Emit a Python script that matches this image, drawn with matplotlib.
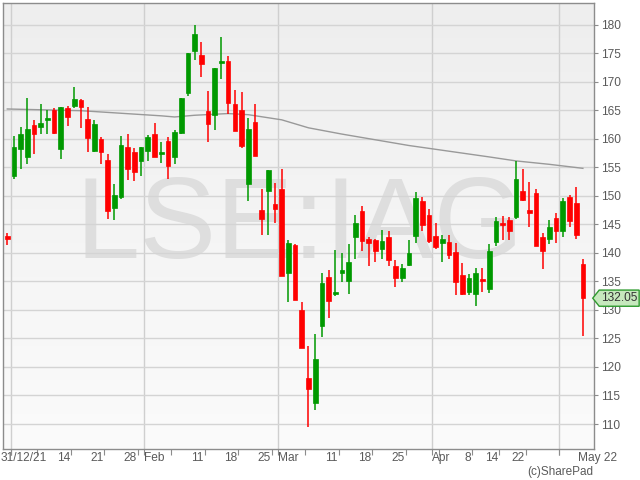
import matplotlib
matplotlib.use('Agg')
import matplotlib.pyplot as plt
import numpy as np
import pandas as pd
from matplotlib.path import Path
from matplotlib.transforms import blended_transform_factory

plt.rcParams['font.family'] = ['Liberation Sans', 'DejaVu Sans']

# trading days shown (UK holidays removed)
holidays = ['2022-01-03', '2022-04-15', '2022-04-18', '2022-05-02']
dates = pd.bdate_range('2021-12-31', '2022-05-06')
dates = dates[~dates.isin(pd.to_datetime(holidays))]

opens = [143.0, 153.5, 158.2, 156.8, 162.4, 162.1, 163.3, 165.0, 158.2, 165.4,
         165.8, 166.8, 163.4, 157.9, 159.9, 156.3, 147.9, 149.8, 158.5, 157.7,
         156.0, 157.9, 160.8, 157.3, 159.6, 156.8, 161.0, 168.0, 175.4, 174.7,
         164.9, 164.2, 173.3, 173.6, 166.1, 165.0, 152.1, 162.9, 147.5, 150.9,
         148.6, 151.2, 136.5, 141.4, 129.9, 118.1, 113.7, 127.1, 135.8, 132.8,
         136.5, 135.1, 142.7, 147.3, 142.5, 142.3, 140.7, 142.7, 137.7, 135.6,
         137.9, 143.0, 149.1, 146.6, 142.9, 141.8, 141.9, 140.1, 136.1, 133.1,
         132.7, 135.2, 133.7, 141.9, 145.3, 145.8, 146.2, 150.8, 147.5, 150.5,
         142.7, 142.4, 146.1, 143.9, 149.8, 148.8, 138.0]
highs = [143.4, 160.4, 162.0, 167.2, 163.3, 166.1, 165.0, 165.3, 165.6, 165.7,
         169.0, 166.9, 165.5, 163.3, 160.3, 157.3, 152.0, 160.5, 160.8, 158.4,
         158.5, 160.6, 162.7, 159.5, 160.3, 161.5, 167.1, 175.0, 180.0, 177.0,
         168.4, 172.4, 177.8, 174.5, 168.5, 168.2, 163.7, 166.0, 151.2, 154.5,
         152.2, 154.7, 142.2, 141.5, 131.3, 123.6, 125.7, 136.4, 137.0, 140.5,
         139.9, 141.5, 146.6, 148.2, 142.7, 142.5, 144.0, 143.8, 138.7, 138.0,
         142.2, 150.7, 149.8, 147.6, 145.3, 143.1, 143.1, 141.8, 138.2, 136.3,
         137.4, 137.3, 141.5, 146.3, 146.5, 146.2, 156.0, 154.6, 152.4, 151.1,
         143.4, 145.8, 146.9, 149.6, 150.1, 151.5, 138.9]
lows = [141.4, 153.0, 154.6, 155.5, 157.3, 160.9, 160.9, 160.9, 156.4, 162.3,
        165.3, 161.8, 157.7, 157.7, 155.5, 146.0, 145.7, 149.5, 152.7, 152.5,
        153.4, 156.1, 156.7, 155.8, 153.0, 155.6, 160.8, 167.5, 173.7, 170.8,
        159.5, 161.6, 170.5, 164.4, 161.4, 158.4, 149.0, 157.0, 143.1, 143.2,
        145.3, 136.0, 131.3, 131.8, 123.4, 109.4, 112.4, 125.3, 128.5, 132.4,
        134.9, 132.7, 139.0, 140.3, 137.6, 138.4, 139.0, 137.6, 134.0, 134.9,
        137.6, 141.8, 143.8, 141.8, 140.7, 138.4, 139.0, 132.6, 132.6, 132.6,
        130.6, 133.1, 133.0, 141.2, 142.2, 142.2, 145.9, 149.1, 144.6, 141.2,
        137.1, 141.5, 141.7, 142.7, 144.6, 142.4, 125.5]
closes = [142.5, 158.5, 160.8, 161.7, 160.8, 162.7, 163.7, 161.0, 165.5, 163.8,
          166.9, 165.6, 160.1, 162.6, 157.7, 147.4, 150.1, 158.9, 154.6, 154.2,
          158.5, 160.3, 156.8, 157.7, 155.2, 161.2, 167.1, 175.0, 178.4, 173.0,
          162.6, 172.4, 173.6, 166.3, 161.4, 158.8, 161.7, 157.0, 146.0, 154.5,
          147.7, 136.0, 141.8, 131.8, 123.4, 116.2, 121.4, 134.7, 131.6, 133.1,
          137.0, 138.4, 145.2, 142.1, 141.8, 140.4, 142.0, 138.8, 135.6, 137.3,
          140.0, 149.6, 144.8, 142.1, 141.1, 142.4, 139.7, 134.8, 132.8, 135.6,
          136.4, 135.1, 140.3, 145.6, 144.8, 143.9, 152.9, 149.3, 146.9, 141.2,
          140.4, 144.5, 143.9, 149.1, 145.5, 143.1, 132.05]

# long moving average, read at a few trading-day positions
ma_pos = [0, 11, 23, 25, 28, 33, 36, 41, 45, 50, 55, 60, 66, 72, 76, 81, 86]
ma_vals = [165.2, 164.9, 164.0, 163.8, 164.1, 164.4, 164.2, 163.3, 161.9,
           160.8, 159.8, 158.8, 157.8, 156.8, 156.1, 155.5, 154.8]

edge_labels = ['31/12/21', 'May 22']
watermark = 'LSE:IAG'

UP, DOWN = '#009900', '#ff0000'
GRID = '#d4d4d4'
TXT = '#5a5a5a'

fig = plt.figure(figsize=(6.4, 4.8), dpi=100)
ax = fig.add_axes([3 / 640, 1 - 449 / 480, 591 / 640, 446 / 480])

x = np.arange(len(dates))
o, h, l, c = map(np.array, (opens, highs, lows, closes))
up = c >= o

# background gradient
grad = np.linspace(0, 1, 256).reshape(-1, 1)
ax.imshow(grad, aspect='auto', extent=[0, 1, 0, 1], transform=ax.transAxes,
          cmap=matplotlib.colors.LinearSegmentedColormap.from_list('bg', ['#fbfbfb', '#eeeeee']),
          origin='lower', zorder=0)

ax.text(0.5025, 0.428, watermark, transform=ax.transAxes, ha='center', va='baseline',
        fontsize=83, color='#dedede', zorder=0.3)

# horizontal grid
ax.set_yticks(np.arange(110, 181, 5))
ax.yaxis.grid(True, color=GRID, lw=1, zorder=0.5)
ax.set_axisbelow(True)

# week and month boundaries
week = dates.isocalendar().week.values
month = dates.month.values
week_ticks = [i + 0.5 for i in range(len(dates) - 1) if week[i + 1] != week[i]]
month_ticks = [i + 0.5 for i in range(len(dates) - 1) if month[i + 1] != month[i]]
for m in month_ticks:
    ax.axvline(m, color='#cfcfcf', lw=1, zorder=0.5)

ax.plot(ma_pos, ma_vals, color='#999999', lw=1, zorder=2)

# candles
cols = np.where(up, UP, DOWN)
ax.vlines(x, l, h, colors=cols, lw=1.1, zorder=3)
body = np.maximum(np.abs(c - o), 0.35)
ax.bar(x, body, bottom=np.minimum(o, c) - (body - np.abs(c - o)) / 2, width=0.7,
       color=cols, edgecolor=cols, lw=0.5, zorder=4)

ax.set_xlim(-0.64, 87.66)
ax.set_ylim(105.62, 183.77)

for s in ax.spines.values():
    s.set_color('#8c8c8c')
    s.set_linewidth(1)

ax.yaxis.tick_right()
ax.tick_params(axis='y', direction='out', length=3, color='#8c8c8c', labelsize=8.6,
               labelcolor=TXT, pad=2)
ax.set_xticks(sorted(week_ticks + month_ticks))
ax.tick_params(axis='x', direction='out', length=4, color='#8c8c8c', labelbottom=False)

# x labels
tr = ax.get_xaxis_transform()
ylab = -0.021
prev = -1
for t in week_ticks:
    if not any(prev <= m <= t for m in month_ticks):
        i = int(t - 0.5)
        ax.text(t - 0.15, ylab, str(dates[i].day), transform=tr, ha='right', va='center',
                fontsize=8.6, color=TXT)
    prev = t
# first boundary carries the year label, the last month is named at the right edge
for m in month_ticks[1:-1]:
    ax.text(m, ylab, dates[int(m + 0.5)].strftime('%b'), transform=tr, ha='left',
            va='center', fontsize=8.6, color=TXT)
ax.text(-0.94, ylab, edge_labels[0], transform=tr, ha='left', va='center',
        fontsize=8.6, color=TXT, clip_on=False)
ax.text(85.3, ylab, edge_labels[1], transform=tr, ha='left', va='center',
        fontsize=8.6, color=TXT, clip_on=False)

fig.text(593 / 640, 1 - 472 / 480, '(c)SharePad', ha='right', va='center',
         fontsize=8.5, color=TXT)


# last price tag with a pointed left side
def tag_box(x0, y0, width, height, mutation_size):
    pad = 0.25 * mutation_size
    x0, y0 = x0 - pad * 0.6, y0 - pad * 0.7
    x1, y1 = x0 + width + pad * 1.2, y0 + height + pad * 1.4
    ym = (y0 + y1) / 2
    tip = (y1 - y0) * 0.4
    return Path([(x0 - tip, ym), (x0, y0), (x1, y0), (x1, y1), (x0, y1), (x0 - tip, ym)],
                closed=True)


ax.annotate(f'{closes[-1]:.2f}', xy=(1, closes[-1]),
            xycoords=blended_transform_factory(ax.transAxes, ax.transData),
            xytext=(7, 0), textcoords='offset pixels', ha='left', va='center',
            fontsize=8.6, color='#333333', annotation_clip=False,
            bbox=dict(boxstyle=tag_box, fc='#c6e8bd', ec='#2e9a2e', lw=1))

fig.savefig('out.png', dpi=100)
